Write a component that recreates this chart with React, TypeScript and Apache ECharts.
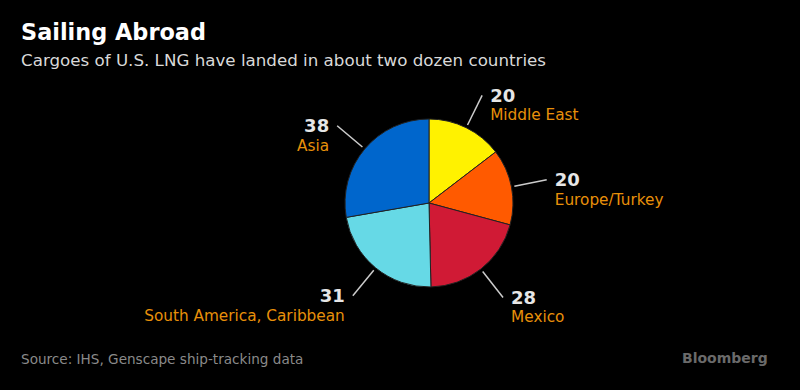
import React, { useEffect, useRef } from "react";
import * as echarts from "echarts";

const regions = ["Middle East", "Europe/Turkey", "Mexico", "South America, Caribbean", "Asia"];
const cargoes = [20, 20, 28, 31, 38];
const sliceColors = ["#fff200", "#ff5a00", "#d01a35", "#66d9e6", "#0066cc"];

const titleText = "Sailing Abroad";
const subtitleText = "Cargoes of U.S. LNG have landed in about two dozen countries";
const sourceText = "Source: IHS, Genscape ship-tracking data";

const FONT = "DejaVu Sans";

export default function App() {
  const ref = useRef<HTMLDivElement>(null);
  useEffect(() => {
    if (!ref.current) return;
    const chart = echarts.init(ref.current, undefined, { renderer: "svg" });
    const data = regions.map((name, i) => ({
      name,
      value: cargoes[i],
      itemStyle: { color: sliceColors[i] },
    }));
    const center = [429, 203];
    chart.setOption({
      animation: false,
      backgroundColor: "#000000",
      title: [
        {
          text: titleText,
          left: 21,
          top: 21,
          padding: 0,
          textStyle: { fontFamily: FONT, fontWeight: "bold", fontSize: 22.4, color: "#ffffff" },
        },
        {
          text: subtitleText,
          left: 21,
          top: 51,
          padding: 0,
          textStyle: { fontFamily: FONT, fontWeight: "normal", fontSize: 16.7, color: "#d9d9d9" },
        },
        {
          text: sourceText,
          left: 21,
          top: 352,
          padding: 0,
          textStyle: { fontFamily: FONT, fontWeight: "normal", fontSize: 13.6, color: "#8a8a8a" },
        },
        {
          text: "Bloomberg",
          left: 682,
          top: 351,
          padding: 0,
          textStyle: { fontFamily: FONT, fontWeight: "bold", fontSize: 14, color: "#6a6a6a" },
        },
      ],
      series: [
        {
          type: "pie",
          center,
          radius: [0, 84],
          startAngle: 90,
          clockwise: true,
          silent: true,
          data,
          itemStyle: { borderColor: "#222222", borderWidth: 1 },
          label: { show: false },
          labelLine: { show: false },
        },
        {
          type: "pie",
          center,
          radius: [0, 87],
          startAngle: 90,
          clockwise: true,
          silent: true,
          z: 1,
          data: regions.map((name, i) => ({ name, value: cargoes[i] })),
          itemStyle: { color: "rgba(0,0,0,0)", borderWidth: 0 },
          label: {
            show: true,
            position: "outside",
            distanceToLabelLine: 8,
            formatter: (p: any) => `{v|${p.value}}\n{n|${p.name}}`,
            padding: [20, 0, 0, 0],
            rich: {
              v: { fontFamily: FONT, fontWeight: "bold", fontSize: 18, color: "#e6e6e6", lineHeight: 20 },
              n: { fontFamily: FONT, fontSize: 15.3, color: "#e8900a", lineHeight: 20 },
            },
          },
          labelLine: {
            show: true,
            length: 33,
            length2: 0,
            lineStyle: { color: "#cccccc", width: 1.5 },
          },
        },
      ],
    });
    return () => chart.dispose();
  }, []);
  return (
    <div
      ref={ref}
      style={{ position: "absolute", left: 0, top: 0, width: 800, height: 390, background: "#000" }}
    />
  );
}
